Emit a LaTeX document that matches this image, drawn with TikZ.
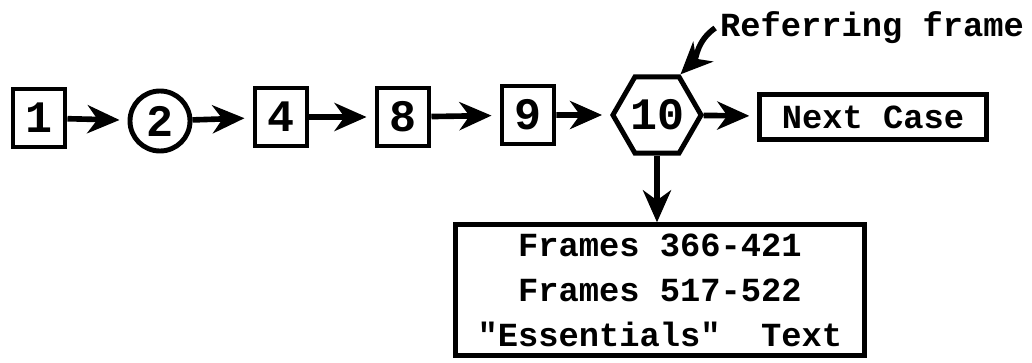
\documentclass[tikz,border=0pt]{standalone}
\usepackage{fontspec}
\setmonofont{Liberation Mono}
\usetikzlibrary{arrows.meta,shapes.geometric}

\begin{document}
\begin{tikzpicture}[x=0.025cm,y=-0.025cm,
  font=\ttfamily\bfseries\fontsize{24}{32}\selectfont,
  big/.style={font=\ttfamily\bfseries\fontsize{32}{36}\selectfont},
  framebox/.style={draw,big,line width=3.5pt,minimum width=1.3cm,minimum height=1.45cm,inner sep=0pt},
  link/.style={-{Stealth[length=8mm,width=7mm,inset=2.5mm]},line width=4pt,shorten >=2mm}]

  \useasboundingbox (0,0) rectangle (1032,362);

  % nodes
  \node[framebox] (f1) at (39,118) {1};
  \node[circle,draw,big,line width=3.5pt,minimum size=1.5cm,inner sep=0pt] (f2) at (160,121) {2};
  \node[framebox] (f4) at (281,117) {4};
  \node[framebox] (f8) at (403,117) {8};
  \node[framebox] (f9) at (528,115) {9};
  \node[regular polygon,regular polygon sides=6,draw,big,line width=3.5pt,minimum size=1.9cm,inner sep=0pt] (f10) at (657,115) {10};
  \node[draw,line width=3.5pt,minimum width=5.66cm,minimum height=1.13cm] (next) at (873,117) {Next Case};
  \node (refer) at (872,28) {Referring frame};
  \node[draw,line width=3.5pt,minimum width=10.23cm,minimum height=3.26cm,align=center] (frames) at (660,290)
    {Frames 366-421\\Frames 517-522\\"Essentials"~~Text};

  % arrows
  \draw[link] (f1) -- (f2);
  \draw[link] (f2) -- (f4);
  \draw[link] (f4) -- (f8);
  \draw[link] (f8) -- (f9);
  \draw[link] (f9) -- (f10);
  \draw[link] (f10) -- (next);
  \draw[link,shorten >=0pt] (f10.south) -- (f10.south |- frames.north);
  \draw[link,shorten >=0pt] (refer.west) to[out=215,in=45] (f10.60);

\end{tikzpicture}
\end{document}
